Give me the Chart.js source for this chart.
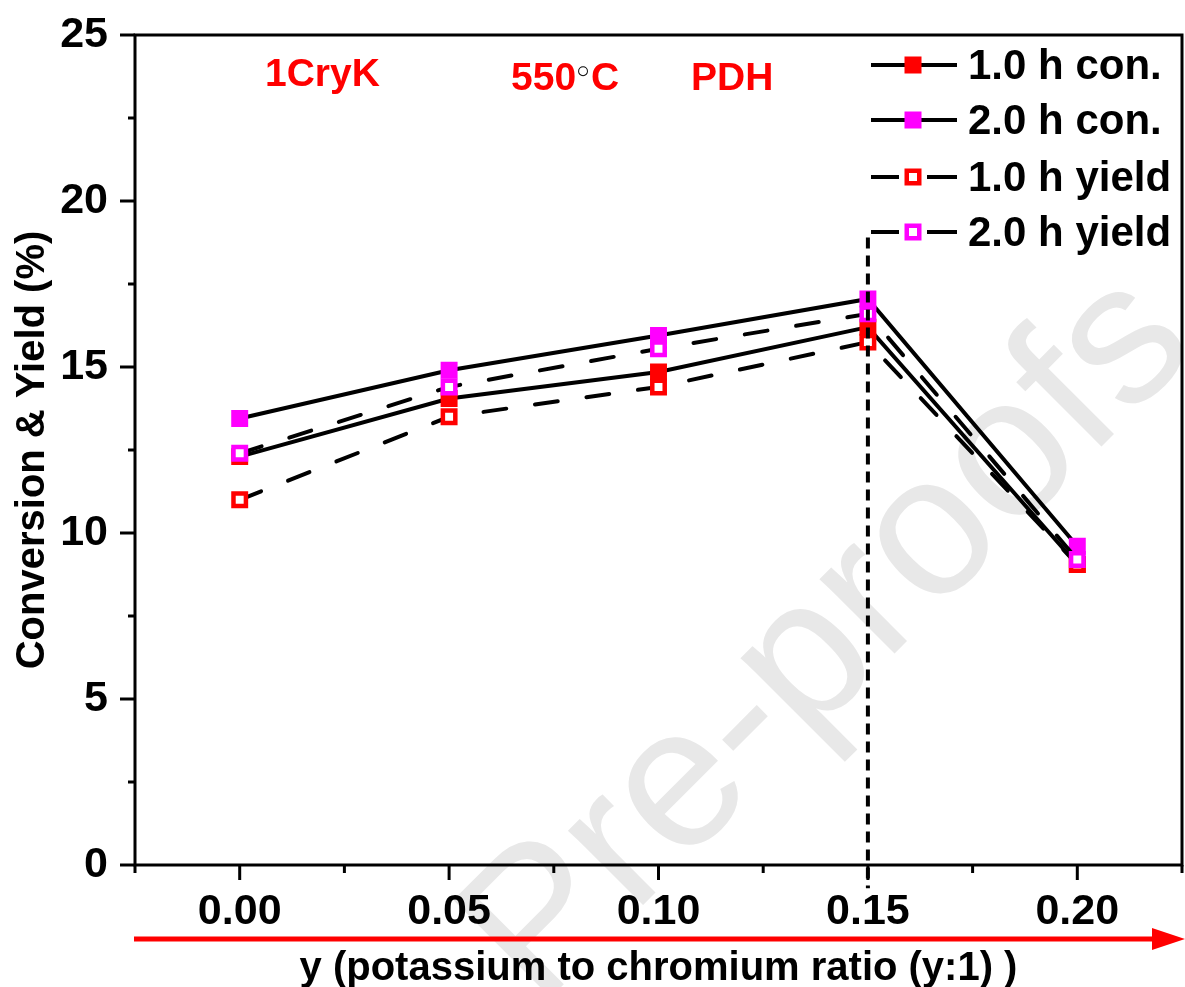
<!DOCTYPE html>
<html><head><meta charset="utf-8">
<script src="https://cdn.jsdelivr.net/npm/chart.js@4/dist/chart.umd.min.js"></script>
<style>html,body{margin:0;padding:0;background:#fff;overflow:hidden}#wrap{width:1185px;height:987px;position:relative;overflow:hidden}</style>
</head><body><div id="wrap"><canvas id="c" width="1205" height="987"></canvas></div>
<script>
// ---- data ----
const ratios   = [0.00, 0.05, 0.10, 0.15, 0.20];
const con1h    = [12.3, 14.05, 14.85, 16.2, 9.05];
const con2h    = [13.45, 14.9, 15.95, 17.05, 9.6];
const yield1h  = [11.0, 13.5, 14.4, 15.75, 9.05];
const yield2h  = [12.4, 14.4, 15.55, 16.6, 9.2];
const guideX   = [0.15, 0.15];
const guideY   = [18.9, -0.7];
const seriesNames = ['1.0 h con.', '2.0 h con.', '1.0 h yield', '2.0 h yield'];
const yTitle = 'Conversion & Yield (%)';
const xTitle = 'y (potassium to chromium ratio (y:1) )';
const labelCatalyst = '1CryK';
const labelTemp = ['550', '\u25E6', 'C'];
const labelReaction = 'PDH';
const watermark = 'Pre-proofs';

const FONT = '"Liberation Sans", Arial, Helvetica, sans-serif';
const RED = '#ff0000', MAG = '#ff00ff';
const AREA = { left: 135, top: 35, right: 1182, bottom: 865 };
const pts = (xs, ys) => xs.map((x, i) => ({x, y: ys[i]}));

function ds(label, ys, color, dashed, order) {
  return {
    label, data: pts(ratios, ys), showLine: true, tension: 0,
    borderColor: '#000', borderWidth: 4,
    borderDash: dashed ? [23, 29] : [], borderCapStyle: dashed ? 'round' : 'butt',
    pointStyle: 'rect', pointRadius: 8.8, pointHoverRadius: 8.8,
    pointBackgroundColor: dashed ? '#fff' : color, pointBorderColor: color, pointBorderWidth: 4.5,
    order
  };
}

const datasets = [
  ds(seriesNames[0], con1h, RED, false, 4),
  ds(seriesNames[1], con2h, MAG, false, 3),
  ds(seriesNames[2], yield1h, RED, true, 2),
  ds(seriesNames[3], yield2h, MAG, true, 1),
  { label: 'guide', data: pts(guideX, guideY), showLine: true, borderColor: '#000', borderWidth: 4,
    borderDash: [11, 7], pointRadius: 0, clip: false, order: 0 }
];

const deco = {
  id: 'deco',
  beforeDraw(chart) {
    const c = chart.ctx;
    c.save();
    c.fillStyle = '#fff'; c.fillRect(0, 0, chart.width, chart.height);
    c.translate(830, 640); c.rotate(-Math.PI / 4);
    c.font = '200px ' + FONT; c.fillStyle = '#e8e8e8';
    c.textAlign = 'center'; c.textBaseline = 'middle';
    c.fillText(watermark, 0, 0);
    c.restore();
  },
  afterDraw(chart) {
    const c = chart.ctx, a = chart.chartArea;
    const xs = chart.scales.x, ys = chart.scales.y;
    c.save();
    c.strokeStyle = '#000'; c.lineWidth = 3; c.lineCap = 'butt';
    c.strokeRect(a.left, a.top, a.right - a.left, a.bottom - a.top);
    for (let k = 0; k <= 10; k++) {
      const v = k * 2.5, p = ys.getPixelForValue(v), len = (k % 2 === 0) ? 15 : 7;
      c.beginPath(); c.moveTo(a.left - len, p); c.lineTo(a.left, p); c.stroke();
    }
    for (let k = -1; k <= 9; k++) {
      const v = k * 0.025, p = xs.getPixelForValue(v), len = (k % 2 === 0) ? 15 : 8;
      c.beginPath(); c.moveTo(p, a.bottom); c.lineTo(p, a.bottom + len); c.stroke();
    }
    // red arrow
    c.strokeStyle = RED; c.fillStyle = RED; c.lineWidth = 5;
    c.beginPath(); c.moveTo(a.left - 1, 939); c.lineTo(1158, 939); c.stroke();
    c.beginPath(); c.moveTo(1152, 928); c.lineTo(1185, 939); c.lineTo(1152, 950); c.closePath(); c.fill();
    // axis titles
    c.fillStyle = '#000';
    c.font = 'bold 40px ' + FONT; c.textAlign = 'center'; c.textBaseline = 'alphabetic';
    c.fillText(xTitle, (a.left + a.right) / 2, 980);
    c.save(); c.translate(44, 450); c.rotate(-Math.PI / 2); c.fillText(yTitle, 0, 0); c.restore();
    // annotations
    c.font = 'bold 39px ' + FONT; c.textAlign = 'left';
    c.fillStyle = RED; c.fillText(labelCatalyst, 265, 86);
    let x = 511;
    c.fillText(labelTemp[0], x, 90); x += c.measureText(labelTemp[0]).width;
    c.fillStyle = '#000'; c.font = '34px "DejaVu Sans", sans-serif';
    c.fillText(labelTemp[1], x - 3, 84); x += c.measureText(labelTemp[1]).width - 5;
    c.fillStyle = RED; c.font = 'bold 39px ' + FONT;
    c.fillText(labelTemp[2], x, 90);
    c.fillText(labelReaction, 691, 90);
    // legend
    const rows = [65, 120, 177, 232];
    c.font = 'bold 42px ' + FONT; c.textBaseline = 'middle';
    for (let i = 0; i < 4; i++) {
      const d = chart.data.datasets[i], y = rows[i];
      c.strokeStyle = '#000'; c.lineWidth = 4; c.lineCap = 'butt'; c.setLineDash([]);
      c.beginPath();
      if (d.borderDash.length) { c.moveTo(871, y); c.lineTo(899, y); c.moveTo(927, y); c.lineTo(957, y); }
      else { c.moveTo(871, y); c.lineTo(957, y); }
      c.stroke();
      const s = 12.5;
      c.fillStyle = d.pointBackgroundColor; c.fillRect(913 - s / 2, y - s / 2, s, s);
      c.strokeStyle = d.pointBorderColor; c.lineWidth = 4.5; c.strokeRect(913 - s / 2, y - s / 2, s, s);
      c.fillStyle = '#000'; c.fillText(d.label, 968, y + 2);
    }
    c.restore();
  }
};

const padding = { top: 35, right: 23, left: 0, bottom: 0 };
const chart = new Chart(document.getElementById('c'), {
  type: 'scatter',
  data: { datasets },
  options: {
    responsive: false, animation: false, devicePixelRatio: 1, events: [],
    layout: { padding },
    plugins: { legend: { display: false }, tooltip: { enabled: false } },
    scales: {
      x: {
        type: 'linear', min: -0.025, max: 0.225,
        grid: { display: false, drawTicks: false }, border: { display: false },
        afterFit: s => { s.height = 122; s.paddingLeft = 0; s.paddingRight = 0; },
        ticks: {
          stepSize: 0.025, autoSkip: false, maxRotation: 0, padding: 21, color: '#000',
          font: { family: FONT, size: 43, weight: 'bold' },
          callback: v => (Math.round(v * 1000) % 50 === 0 ? (Math.round(v * 1000) / 1000).toFixed(2) : '')
        }
      },
      y: {
        min: 0, max: 25,
        grid: { display: false, drawTicks: false }, border: { display: false },
        afterFit: s => { s.width = 135; s.paddingTop = 0; s.paddingBottom = 0; },
        ticks: {
          stepSize: 2.5, autoSkip: false, padding: 27, color: '#000',
          font: { family: FONT, size: 43, weight: 'bold' },
          callback: v => (Math.round(v * 10) % 50 === 0 ? String(Math.round(v)) : '')
        }
      }
    }
  },
  plugins: [deco]
});
// nudge layout padding so the plot area lands on the reference frame
for (let i = 0; i < 4; i++) {
  const a = chart.chartArea, p = chart.config.options.layout.padding;
  p.top += AREA.top - a.top;
  p.right += a.right - AREA.right;
  p.left += AREA.left - a.left;
  p.bottom += a.bottom - AREA.bottom;
  chart.update();
}
</script></body></html>
